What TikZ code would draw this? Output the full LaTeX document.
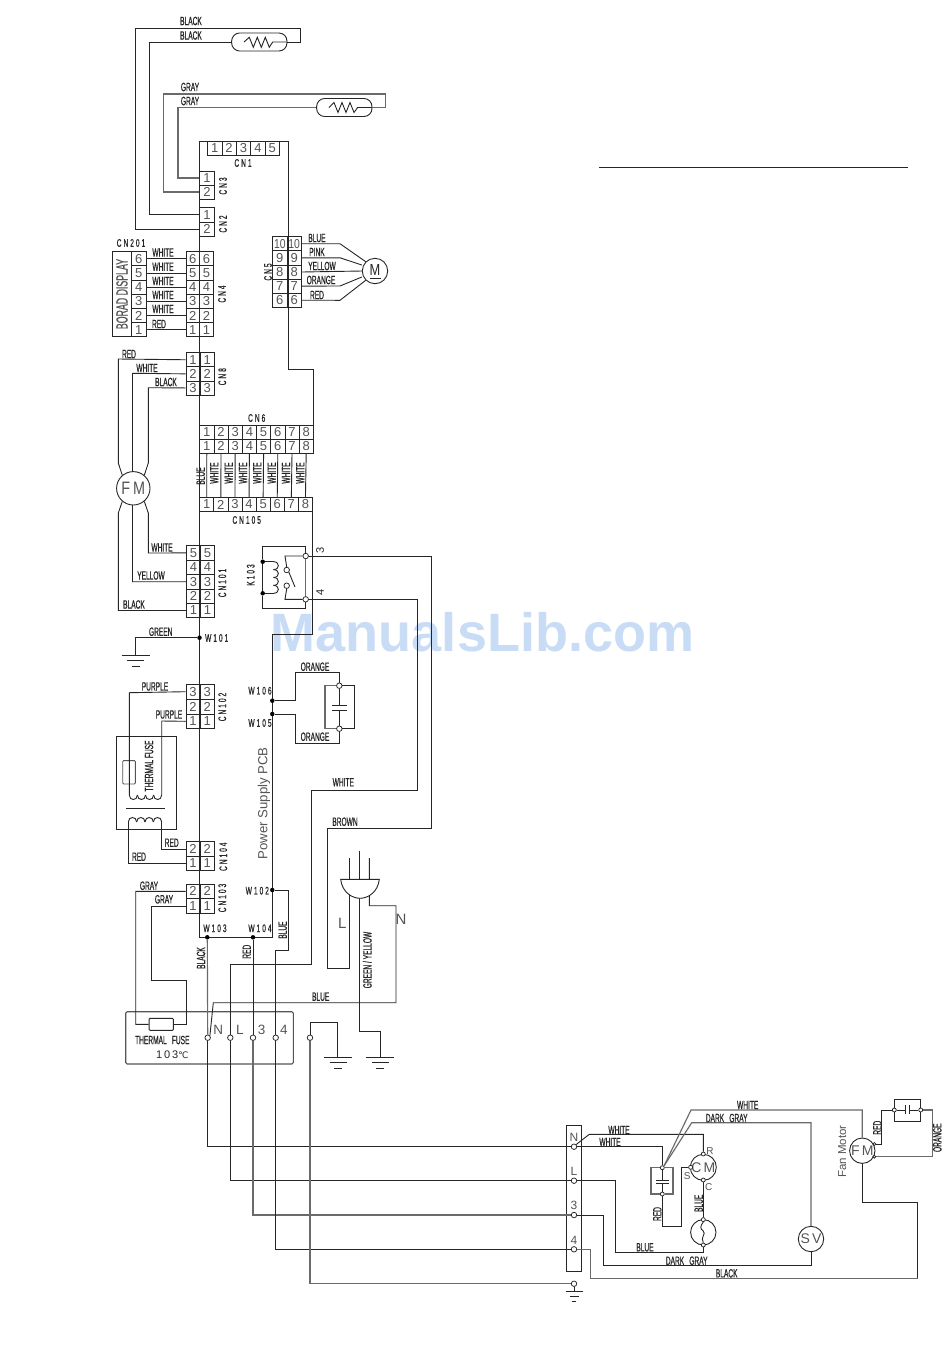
\documentclass[tikz,border=0pt]{standalone}
\usepackage{fontspec}
\setmainfont{Liberation Sans}
\newfontfamily\cad[FakeStretch=0.55,FakeBold=0.6]{Liberation Sans}
\newfontfamily\cadw[FakeStretch=0.6,FakeBold=0.6,LetterSpace=18]{Liberation Sans}
\newfontfamily\cade[FakeStretch=0.8]{Liberation Sans}
\newfontfamily\dvu{DejaVu Sans}
\definecolor{ink}{HTML}{262626}
\definecolor{grayw}{HTML}{6A6A6A}
\definecolor{wm}{HTML}{C9DCF6}
\definecolor{soft}{HTML}{555555}
\tikzset{
  x=1pt,y=-1pt,
  wire/.style={draw=ink,line width=0.9pt,line join=miter},
  gwire/.style={draw=grayw,line width=1.15pt},
  lab/.style={inner sep=0pt,text=ink,font=\cad\fontsize{12}{12}\selectfont},
  cnl/.style={inner sep=0pt,text=ink,font=\cadw\fontsize{11}{11}\selectfont},
  rlab/.style={lab,rotate=90},
  rcnl/.style={cnl,rotate=90},
  big/.style={inner sep=0pt,text=soft,font=\fontsize{13.5}{14}\selectfont},
  pin/.style={draw=ink,line width=0.8pt,inner sep=0pt,text=soft,font=\fontsize{13}{13}\selectfont},
  term/.style={circle,draw=ink,line width=0.75pt,fill=white,inner sep=0pt,minimum size=5.5pt},
  dotj/.style={circle,fill=black,inner sep=0pt,minimum size=4.5pt},
  mot/.style={circle,draw=ink,line width=0.9pt,inner sep=0pt,minimum size=25.4pt,text=soft,font=\fontsize{14}{14}\selectfont},
  box/.style={draw=ink,line width=0.9pt,inner sep=0pt,rectangle},
}
\newcommand\pinblock[6]{%
  \foreach \dd [count=\ii] in {#6}{%
    \pgfmathsetmacro\mm{(#2+#3)/2}%
    \pgfmathsetmacro\yy{#4+(\ii-0.5)*#5}%
    \pgfmathsetmacro\xa{(#2+\mm)/2}%
    \pgfmathsetmacro\xb{(#3+\mm)/2}%
    \pgfmathsetmacro\wa{\mm-#2}%
    \pgfmathsetmacro\wb{#3-\mm}%
    \node[pin,minimum width=\wa pt,minimum height=#5pt] (#1-L\ii) at (\xa,\yy) {\dd};
    \node[pin,minimum width=\wb pt,minimum height=#5pt] (#1-R\ii) at (\xb,\yy) {\dd};
  }}
\newcommand\pincol[6]{%
  \foreach \dd [count=\ii] in {#6}{%
    \pgfmathsetmacro\xa{(#2+#3)/2}%
    \pgfmathsetmacro\yy{#4+(\ii-0.5)*#5}%
    \pgfmathsetmacro\wa{#3-#2}%
    \node[pin,minimum width=\wa pt,minimum height=#5pt] (#1-\ii) at (\xa,\yy) {\dd};
  }}
\newcommand\pinrow[6]{%
  \foreach \ii in {1,...,#6}{%
    \pgfmathsetmacro\xa{#2+(\ii-0.5)*#3}%
    \pgfmathsetmacro\yy{#4+#5/2}%
    \node[pin,minimum width=#3pt,minimum height=#5pt] (#1-\ii) at (\xa,\yy) {\ii};
  }}
\newcommand\bumpsH[5]{%
  \foreach \ii in {1,...,#5}{%
    \pgfmathsetmacro\xa{#1+(\ii-1)*#3}%
    \draw[wire] (\xa,#2) .. controls +(0,#4) and +(0,#4) .. +(#3,0);
  }}
\newcommand\bumpsV[5]{%
  \foreach \ii in {1,...,#5}{%
    \pgfmathsetmacro\yy{#2+(\ii-1)*#3}%
    \draw[wire] (#1,\yy) .. controls +(#4,0) and +(#4,0) .. +(0,#3);
  }}
\newcommand\gnd[2]{%
  \draw[wire] ({#1-14.2},#2) -- ({#1+14.2},#2);
  \draw[wire] ({#1-8.5},{#2+5.4}) -- ({#1+8.5},{#2+5.4});
  \draw[wire] ({#1-4},{#2+11}) -- ({#1+4},{#2+11});
}
\begin{document}
\begin{tikzpicture}
\useasboundingbox (0,0) rectangle (950,1369);
\fill[white] (0,0) rectangle (950,1369);
\node[inner sep=0pt,text=wm,font=\bfseries\fontsize{54}{54}\selectfont] (mark) at (482.5,632) {ManualsLib.com};

\coordinate (ruleA) at (599,167); \coordinate (ruleB) at (908,167);
\draw[wire] (ruleA) -- (ruleB);

\draw[wire] (199.5,237) -- (199.5,141) -- (288,141) -- (288,369) -- (313.5,369) -- (313.5,425.3);
\draw[wire] (199.5,237) -- (199.5,937.3) -- (272,937.3) -- (272,634) -- (312.7,634) -- (312.7,511.7);

\node[draw=ink,line width=.9pt,rounded corners=8pt,minimum width=55.3pt,minimum height=18pt,inner sep=0pt] (s1) at (259.3,42) {};
\draw[wire] (244,42) -- (249.3,37.3) -- (253.3,47.3) -- (257.3,37.3) -- (261.3,47.3) -- (265.3,37.3) -- (269.3,47.3) -- (272.7,42) -- (s1.east);
\node[draw=ink,line width=.9pt,rounded corners=8pt,minimum width=55.3pt,minimum height=18pt,inner sep=0pt] (s2) at (344.3,107.5) {};
\draw[wire] (329,107.5) -- (334,102.5) -- (338,112.5) -- (342,102.5) -- (346,112.5) -- (350,102.5) -- (354,112.5) -- (357.6,107.5) -- (s2.east);

\pinrow{cna}{207.5}{14.4}{141}{14.7}{5}
\node[cnl] (lcn1) at (243,163) {CN1};
\pincol{cnc}{199.5}{214.5}{171}{14}{1,2}
\node[rcnl] (lcn3) at (223,186) {CN3};
\pincol{cnb}{199.5}{214.5}{207.5}{14.5}{1,2}
\node[rcnl] (lcn2) at (223,224) {CN2};
\draw[wire] (s1.west) -- (149.3,42) |- (cnb-1.west);
\draw[wire] (s1.east) -- (300,42) -- (300,28) -- (135.5,28) |- (cnb-2.west);
\draw[gwire] (s2.west) -- (178,107.5) |- (cnc-1.west);
\draw[gwire] (s2.east) -- (385.5,107.5) -- (385.5,94) -- (163.5,94) |- (cnc-2.west);
\node[lab] (lb1) at (191,21) {BLACK};
\node[lab] (lb2) at (191,35.5) {BLACK};
\node[lab] (lb3) at (190,87) {GRAY};
\node[lab] (lb4) at (190,101) {GRAY};

\pinblock{cnd}{186}{213.3}{251.7}{14.17}{6,5,4,3,2,1}
\node[rcnl] (lcn4) at (222,294) {CN4};
\pincol{disp}{131.7}{146}{251.7}{14.17}{6,5,4,3,2,1}
\node[box,minimum width=19.7pt,minimum height=85pt] (board) at (121.85,294.2) {};
\node[inner sep=0pt,rotate=90,text=soft,font=\cad\fontsize{16}{16}\selectfont] (lboard) at (122,294) {BORAD DISPLAY};
\node[cnl] (lcn201) at (131,243) {CN201};
\foreach \i in {1,...,6}{
  \draw[wire] (disp-\i.east) -- (cnd-L\i.west);
}
\node[lab] (w1) at (163,252.5) {WHITE};
\node[lab] (w2) at (163,266.7) {WHITE};
\node[lab] (w3) at (163,281) {WHITE};
\node[lab] (w4) at (163,295) {WHITE};
\node[lab] (w5) at (163,309) {WHITE};
\node[lab] (w6) at (159,324) {RED};

\pinblock{cne}{272.7}{301.3}{236.7}{14.12}{{\cade 10},9,8,7,6}
\node[rcnl] (lcn5) at (268,272) {CN5};
\node[mot] (mm) at (375,271) {};
\node[inner sep=0pt,text=ink,font=\cade\fontsize{16}{16}\selectfont] (mtxt) at (375,270) {M};
\draw[wire] (369.5,278) -- (380.5,278);
\draw[wire] (cne-R1.east) -- (340,243.7) -- (mm.north west);
\draw[wire] (cne-R2.east) -- (340,257.8) -- (mm.west|-0,265);
\draw[wire] (cne-R3.east) -- (mm.west);
\draw[wire] (cne-R4.east) -- (340,286) -- (mm.west|-0,277);
\draw[wire] (cne-R5.east) -- (340,300.3) -- (mm.south west);
\node[lab] (c1) at (317,238) {BLUE};
\node[lab] (c2) at (317,252) {PINK};
\node[lab] (c3) at (322,266) {YELLOW};
\node[lab] (c4) at (321,280) {ORANGE};
\node[lab] (c5) at (317,295) {RED};

\pinblock{cnh}{186}{214.3}{352.7}{14.1}{1,2,3}
\node[rcnl] (lcn8) at (222.3,376.7) {CN8};
\pinblock{cnk}{186.7}{214.3}{545.7}{14.4}{5,4,3,2,1}
\node[rcnl] (lcn101) at (222.3,583) {CN101};
\node[circle,draw=ink,line width=.9pt,inner sep=0pt,minimum size=33.4pt,text=soft,font=\cade\fontsize{18}{18}\selectfont] (fm) at (133.3,488.3) {F\,M};
\draw[wire] (cnh-L1.west) -- (118.3,359) -- (118.3,463) -- (fm.130);
\draw[wire] (cnh-L2.west) -- (132.5,373.3) -- (132.5,471.6);
\draw[wire] (cnh-L3.west) -- (148.3,387.7) -- (148.3,463) -- (fm.50);
\draw[wire] (cnk-L1.west) -- (148.3,553) -- (148.3,513) -- (fm.-50);
\draw[wire] (cnk-L3.west) -- (132.5,581.7) -- (132.5,505);
\draw[wire] (cnk-L5.west) -- (118.3,610.5) -- (118.3,513) -- (fm.-130);
\node[lab] (h1) at (129,354) {RED};
\node[lab] (h2) at (147,368) {WHITE};
\node[lab] (h3) at (166,382) {BLACK};
\node[lab] (k1) at (162,547.5) {WHITE};
\node[lab] (k2) at (151,575.5) {YELLOW};
\node[lab] (k3) at (134,604.5) {BLACK};

\node[cnl] (lcn6) at (256.7,418) {CN6};
\pinrow{cnf}{199.7}{14.2}{425.3}{14}{8}
\pinrow{cng}{199.7}{14.2}{439.3}{14}{8}
\pinrow{cnm}{199.7}{14.1}{497.3}{14.4}{8}
\node[cnl] (lcn105) at (246.7,520) {CN105};
\foreach \i in {1,...,8}{\draw[wire] (cng-\i.south) -- (cnm-\i.north);}
\node[rlab] (f1) at (200.7,476) {BLUE};
\foreach \xx/\nn in {214.3/a,228.7/b,243/c,257.3/d,271.7/e,286/f,300.3/g}{
  \node[rlab] (fw\nn) at (\xx,473) {WHITE};
}

\node[term] (t3) at (305.7,556) {};
\node[term] (t4) at (305.7,599.3) {};
\node[term] (sa) at (286.7,570) {};
\node[term] (sb) at (286.7,585.7) {};
\node[dotj] (ca) at (262.7,561.7) {};
\node[dotj] (cb) at (262.7,593.3) {};
\draw[wire] (t3.north) -- (305.7,546.7) -- (262.7,546.7) -- (ca) -- (cb) -- (262.7,608.3) -- (305.7,608.3) -- (t4.south);
\draw[gwire] (t3.south) -- (t4.north);
\draw[wire] (ca) -- (273.5,561.7);
\draw[wire] (cb) -- (273.5,593.3);
\bumpsV{273.5}{561.7}{7.9}{6.5}{4}
\draw[wire] (t3.west) -- (285,556) -- (sa.north);
\draw[wire] (sb.south) -- (285,599.3) -- (t4.west);
\draw[wire] (sa.south east) -- (295,587);
\node[rcnl] (lk103) at (250.7,575) {K103};
\node[rlab,font=\fontsize{11}{11}\selectfont] (l3) at (320,550) {3};
\node[rlab,font=\fontsize{11}{11}\selectfont] (l4) at (320,592.7) {4};

\node[dotj] (w101) at (199.5,637.7) {};
\node[cnl] (lw101) at (216.7,638) {W101};
\coordinate (g1) at (135.7,655);
\draw[wire] (w101) -| (g1);
\gnd{135.7}{655}
\node[lab] (lgreen) at (160.7,631.7) {GREEN};

\pinblock{cnn}{186}{214.3}{684.3}{14.8}{3,2,1}
\node[rcnl] (lcn102) at (222.3,707) {CN102};
\node[box,minimum width=59.6pt,minimum height=92.6pt] (trafo) at (146.5,783) {};
\node[draw=soft,line width=.9pt,inner sep=0pt,minimum width=12.6pt,minimum height=23.3pt,rounded corners=1pt] (tf1) at (129,772.3) {};
\node[inner sep=0pt,rotate=90,text=ink,font=\cad\fontsize{12}{12}\selectfont] (ltf1) at (149,766) {THERMAL FUSE};
\draw[wire] (cnn-L1.west) -- (129.3,692.7) -- (129.3,795);
\draw[wire] (cnn-L3.west) -- (161.7,721) -- (161.7,795);
\bumpsH{129.3}{795}{8.1}{6}{4}
\draw[wire] (126,808.3) -- (165,808.3);
\bumpsH{128.3}{822}{8.35}{-6}{4}
\pinblock{cnp}{186}{214.3}{841.7}{14.5}{2,1}
\node[rcnl] (lcn104) at (223.3,856.7) {CN104};
\draw[wire] (161.7,822) |- (cnp-L1.west);
\draw[wire] (128.3,822) |- (cnp-L2.west);
\node[lab] (n1) at (155,686.5) {PURPLE};
\node[lab] (n2) at (169,714.5) {PURPLE};
\node[lab] (p1) at (171.7,842.7) {RED};
\node[lab] (p2) at (139,856.7) {RED};

\node[dotj] (w106) at (272.3,700.7) {};
\node[dotj] (w105) at (272.3,714) {};
\node[cnl] (lw106) at (260,690.7) {W106};
\node[cnl] (lw105) at (260,723) {W105};
\node[term] (ka) at (339.3,685.7) {};
\node[term] (kb) at (339.3,728.7) {};
\draw[wire] (w106) -- (295.3,700.7) -- (295.3,672.7) -- (339.3,672.7) -- (ka.north);
\draw[wire] (w105) -- (295.3,714) -- (295.3,743.3) -- (339.3,743.3) -- (kb.south);
\draw[gwire] (ka.west) -- (325,685.7) -- (325,728.7) -- (kb.west);
\draw[wire] (ka.east) -- (354.3,685.7) -- (354.3,728.7) -- (kb.east);
\draw[wire] (ka.south) -- (339.3,705);
\draw[wire] (kb.north) -- (339.3,710);
\draw[wire] (332.3,705) -- (347.3,705);
\draw[wire] (332.3,710) -- (347.3,710);
\node[lab] (o1) at (315,666.7) {ORANGE};
\node[lab] (o2) at (315,736.7) {ORANGE};
\node[inner sep=0pt,rotate=90,text=soft,font=\fontsize{13.2}{14}\selectfont] (lpcb) at (264,803.3) {Power Supply PCB};

\pinblock{cnq}{186}{214.3}{884}{14.65}{2,1}
\node[rcnl] (lcn103) at (222.3,898) {CN103};
\node[dotj] (w102) at (272.3,890) {};
\node[dotj] (w103) at (207.3,937.3) {};
\node[dotj] (w104) at (253,937.3) {};
\node[cnl] (lw102) at (257.3,890.7) {W102};
\node[cnl] (lw103) at (215,928.3) {W103};
\node[cnl] (lw104) at (260,928.3) {W104};
\node[lab] (q1) at (149,885.7) {GRAY};
\node[lab] (q2) at (164,899.3) {GRAY};
\node[rlab] (q3) at (282.7,930) {BLUE};
\node[rlab] (q4) at (201,958) {BLACK};
\node[rlab] (q5) at (246.7,951.7) {RED};

\node[draw=soft,line width=1.1pt,rounded corners=1.5pt,inner sep=0pt,minimum width=167.6pt,minimum height=52.3pt] (tb) at (209.5,1037.85) {};
\node[draw=ink,line width=.9pt,inner sep=0pt,minimum width=24.3pt,minimum height=12pt,rounded corners=1pt] (tf2) at (161.2,1024.3) {};
\node[lab] (ltf2) at (162.3,1040) {THERMAL\; FUSE};
\node[inner sep=0pt,text=ink,font=\fontsize{11}{11}\selectfont] (l103) at (172.3,1054.3) {1\,0\,3{\dvu\fontsize{9}{9}\selectfont ℃}};
\node[term] (tn) at (207.7,1037.7) {};
\node[term] (tl) at (230.3,1037.7) {};
\node[term] (ttr) at (253,1037.7) {};
\node[term] (tfr) at (275.7,1037.7) {};
\node[term] (te) at (310,1037.7) {};
\node[big] (ln) at (218.3,1030) {N};
\node[big] (ll) at (240,1030) {L};
\node[big] (l3x) at (261.7,1030) {3};
\node[big] (l4x) at (284,1030) {4};
\draw[wire] (tf2.west) -- (135.7,1024.3) -- (135.7,891.3) -- (cnq-L1.west);
\draw[wire] (tf2.east) -- (186.7,1024.3) -- (186.7,980) -- (151.7,980) |- (cnq-L2.west);
\draw[gwire] (w103) -- (tn.north);
\draw[wire] (w104) -- (ttr.north);
\draw[wire] (w102) -- (288.7,890) -- (288.7,950) -- (275.7,950) -- (tfr.north);
\draw[wire] (t4.east) -- (417.3,599.3) -- (417.3,790) -- (311.3,790) -- (311.3,964) -- (230.3,964) -- (tl.north);
\draw[wire] (t3.east) -- (431.7,556) -- (431.7,828.7) -- (327.7,828.7) -- (327.7,968.7) -- (349.3,968.7) -- (349.3,858);
\node[lab] (lwh) at (343.3,782.3) {WHITE};
\node[lab] (lbr) at (345,821.7) {BROWN};

\draw[wire] (359.3,851) -- (359.3,1031.7) -- (380,1031.7) -- (380,1057.3);
\draw[wire] (369.3,858) -- (369.3,905.7) -- (396,905.7) -- (396,1002.7) -- (213.3,1002.7) -- (tn.north east);
\gnd{380}{1057.3}
\draw[draw=ink,fill=white,line width=.9pt] (340.7,879.3) .. controls (342,892) and (352,898.3) .. (360,898.3) .. controls (368,898.3) and (378,892) .. (379.3,879.3) -- cycle;
\node[big,font=\fontsize{15}{15}\selectfont] (pl) at (342.3,923.3) {L};
\node[big,font=\fontsize{15}{15}\selectfont] (pn) at (401,919.3) {N};
\node[rlab] (gy) at (367.3,960) {GREEN / YELLOW};
\node[lab] (lblue) at (320.7,996.7) {BLUE};
\draw[wire] (te.north) -- (310,1022) -- (337.7,1022) -- (337.7,1057.3);
\gnd{338}{1057.3}

\node[box,minimum width=15.4pt,minimum height=146.7pt] (strip) at (574,1198.3) {};
\node[term] (rn) at (574,1146.7) {};
\node[term] (rl) at (574,1180.7) {};
\node[term] (r3) at (574,1215) {};
\node[term] (r4) at (574,1249.3) {};
\node[term] (rg) at (574,1283.7) {};
\node[big,font=\fontsize{12}{12}\selectfont] at (574,1137.7) (sn) {N};
\node[big,font=\fontsize{12}{12}\selectfont] at (574,1171) (sl) {L};
\node[big,font=\fontsize{12}{12}\selectfont] at (574,1205.7) (s3) {3};
\node[big,font=\fontsize{12}{12}\selectfont] at (574,1240.7) (s4) {4};
\draw[wire] (tn.south) |- (rn.west);
\draw[wire] (tl.south) |- (rl.west);
\draw[gwire] (ttr.south) |- (r3.west);
\draw[wire] (tfr.south) |- (r4.west);
\draw[gwire] (te.south) |- (rg.west);
\draw[wire] (rg.south) -- (574,1291.7);
\draw[wire] (565.7,1291.7) -- (582.7,1291.7);
\draw[wire] (569.5,1296.7) -- (578.5,1296.7);
\draw[wire] (571.7,1301) -- (576,1301);

\node[mot] (cm) at (703.3,1167.3) {C\,M};
\node[mot] (ol) at (703.3,1232.3) {};
\node[mot] (sv) at (811,1239) {S\,V};
\node[mot] (fan) at (862.3,1150.7) {F\,M};
\node[term,minimum size=4pt] (tr) at (703.3,1154) {};
\node[term,minimum size=4pt] (ts) at (690.6,1167.3) {};
\node[term,minimum size=4pt] (tc) at (703.3,1180) {};
\node[term,minimum size=4pt] (ota) at (703.3,1219.6) {};
\node[term,minimum size=4pt] (otb) at (703.3,1245) {};
\node[inner sep=0pt,text=soft,font=\fontsize{10}{10}\selectfont] (lr) at (710,1150.7) {R};
\node[inner sep=0pt,text=soft,font=\fontsize{10}{10}\selectfont] (ls) at (687.3,1176) {S};
\node[inner sep=0pt,text=soft,font=\fontsize{10}{10}\selectfont] (lc) at (708.7,1186.7) {C};
\draw[wire] (ota.south) .. controls (700,1226) and (700,1229) .. (703.3,1231);
\draw[wire] (703.3,1231) .. controls (706.5,1234) and (700,1237) .. (otb.north);
\draw[wire] (tc.south) -- (ota.north);

\node[term,minimum size=4pt] (ja) at (662.3,1167.7) {};
\node[term,minimum size=4pt] (jb) at (662.3,1194) {};
\draw[gwire] (ja.west) -- (651,1167.7) -- (651,1194) -- (jb.west);
\draw[gwire] (ja.east) -- (673,1167.7) -- (673,1194) -- (jb.east);
\draw[wire] (ja.south) -- (662.3,1180); \draw[wire] (jb.north) -- (662.3,1183.3);
\draw[wire] (656,1180) -- (669,1180); \draw[wire] (656,1183.3) -- (669,1183.3);
\draw[wire] (rn.north east) -- (589.3,1134.3) -- (703.3,1134.3) -- (tr.north);
\draw[wire] (rn.east) -- (662.3,1146.7) -- (ja.north);
\draw[gwire] (ja.north east) -- (691,1110) -- (862.3,1110) -- (fan.north);
\draw[gwire] (ja.north east) -- (691.7,1122.7) -- (811,1122.7) -- (sv.north);
\draw[wire] (jb.south) -- (662.3,1226.7) -- (681,1226.7) -- (681,1167.3) -- (ts.west);
\draw[wire] (otb.south) -- (703.3,1252.3) -- (615.7,1252.3) -- (615.7,1180.7) -- (rl.east);
\draw[wire] (r3.east) -- (603.3,1215) -- (603.3,1265) -- (811,1265) -- (sv.south);
\draw[gwire] (r4.east) -- (590.3,1249.3) -- (590.3,1278.3) -- (917.7,1278.3);
\draw[wire] (917.7,1278.3) -- (917.7,1202.3) -- (862.3,1202.3) -- (fan.south);

\node[term,minimum size=4pt] (pa) at (894.3,1110) {};
\node[term,minimum size=4pt] (pb) at (920.7,1110) {};
\node[term,minimum size=3pt] (fa) at (874.3,1144) {};
\node[term,minimum size=3pt] (fb) at (874.3,1156.7) {};
\draw[wire] (pa.north) -- (894.3,1099) -- (920.7,1099) -- (pb.north);
\draw[wire] (pa.south) -- (894.3,1121) -- (920.7,1121) -- (pb.south);
\draw[wire] (pa.east) -- (905.5,1110); \draw[wire] (pb.west) -- (909.5,1110);
\draw[wire] (905.5,1105) -- (905.5,1114.3); \draw[wire] (909.5,1105) -- (909.5,1114.3);
\draw[wire] (fa.east) -- (881.7,1144) -- (881.7,1110) -- (pa.west);
\draw[gwire] (pb.east) -- (932.3,1110) -- (932.3,1156.7) -- (fb.east);

\node[lab] (r1) at (619,1130) {WHITE};
\node[lab] (r2) at (610,1142) {WHITE};
\node[lab] (r5) at (747.7,1105) {WHITE};
\node[lab] (r6) at (726.7,1118) {DARK\; GRAY};
\node[rlab] (r7) at (657.3,1214) {RED};
\node[rlab] (r8) at (698.7,1203.3) {BLUE};
\node[lab] (r9) at (645,1247.3) {BLUE};
\node[lab] (r10) at (686.7,1260.7) {DARK\; GRAY};
\node[lab] (r11) at (726.7,1273.3) {BLACK};
\node[rlab] (r12) at (877.3,1127.7) {RED};
\node[rlab] (r13) at (937.3,1137.7) {ORANGE};
\node[inner sep=0pt,rotate=90,text=soft,font=\fontsize{11.5}{12}\selectfont] (lfan) at (842.3,1151.7) {Fan Motor};
\end{tikzpicture}
\end{document}
